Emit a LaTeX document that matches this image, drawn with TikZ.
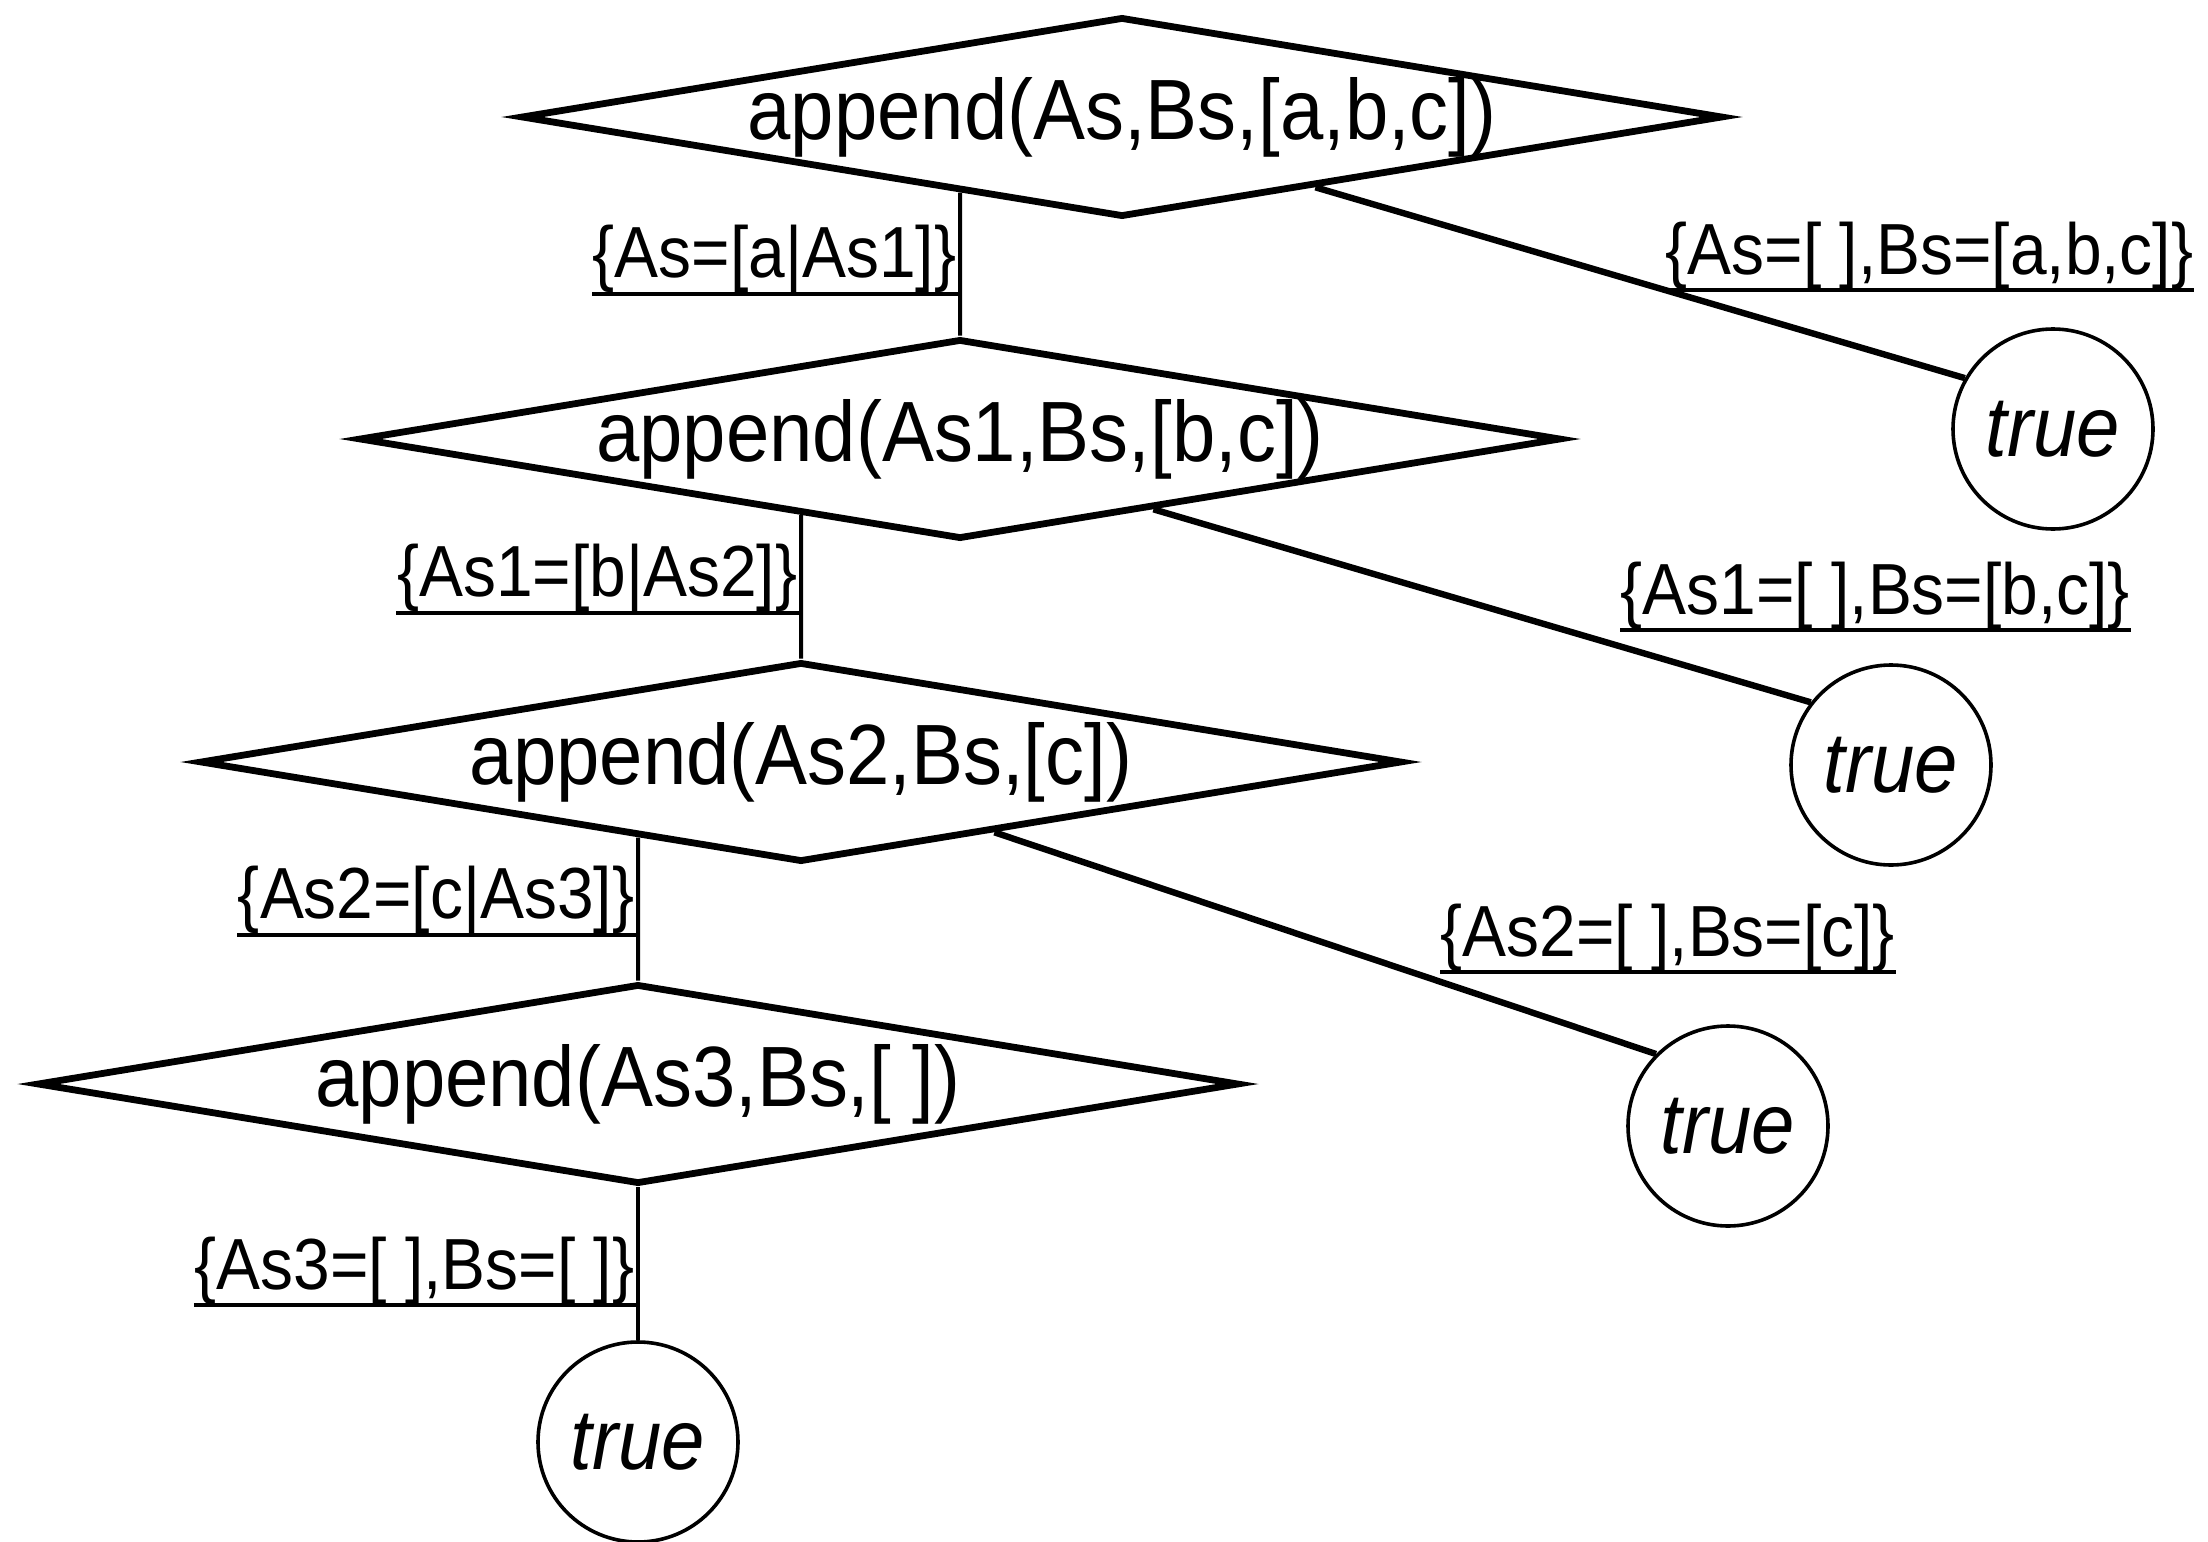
\documentclass[tikz,border=0pt]{standalone}
\usepackage{fontspec}
\newfontfamily\hv{Liberation Sans}[FakeStretch=0.91]
\usetikzlibrary{shapes.geometric,calc}
\begin{document}
\begin{tikzpicture}[x=0.25pt,y=-0.25pt,
  dia/.style={draw,diamond,line width=1.7pt,minimum width=300.5pt,minimum height=50pt,inner sep=0pt},
  goal/.style={inner sep=0pt,font=\hv\fontsize{21.4}{24}\selectfont},
  leaf/.style={draw,circle,line width=0.9pt,minimum size=50pt,inner sep=0pt,font=\hv\itshape\fontsize{21.4}{24}\selectfont},
  lab/.style={inner sep=0pt,font=\hv\fontsize{18.1}{20}\selectfont},
  uline/.style={line width=0.9pt},
  vline/.style={line width=1pt},
  bline/.style={line width=1.6pt}]
\useasboundingbox (0,0) rectangle (2208,1542);

% goals
\node[dia] (d1) at (1122,117) {};
\node[goal] (t1) at (d1.center) {append(As,Bs,[a,b,c])};
\node[dia] (d2) at (960,439) {};
\node[goal] (t2) at (d2.center) {append(As1,Bs,[b,c])};
\node[dia] (d3) at (801,762) {};
\node[goal] (t3) at (d3.center) {append(As2,Bs,[c])};
\node[dia] (d4) at (638,1084) {};
\node[goal] (t4) at (d4.center) {append(As3,Bs,[ ])};

% leaves
\node[leaf] (c1) at (2053,429) {true};
\node[leaf] (c2) at (1891,765) {true};
\node[leaf] (c3) at (1728,1126) {true};
\node[leaf] (c4) at (638,1442) {true};

% left (recursive) branches
\draw[vline] (intersection of d1.south--d1.west and d2.north--d2.center) -- (d2.north);
\draw[vline] (intersection of d2.south--d2.west and d3.north--d3.center) -- (d3.north);
\draw[vline] (intersection of d3.south--d3.west and d4.north--d4.center) -- (d4.north);
\draw[vline] (d4.south) -- (c4.north);

% right (base case) branches
\draw[bline] ($(d1.south)!0.32!(d1.east)$) -- (c1.150);
\draw[bline] ($(d2.south)!0.32!(d2.east)$) -- (c2.142);
\draw[bline] ($(d3.south)!0.32!(d3.east)$) -- (c3.135);

% labels on left branches
\node[lab,anchor=south east] (l1) at (957,294) {\{As=[a|As1]\}};
\draw[uline] (l1.south west) -- (l1.south west -| d2.north);
\node[lab,anchor=south east] (l2) at (798,613) {\{As1=[b|As2]\}};
\draw[uline] (l2.south west) -- (l2.south west -| d3.north);
\node[lab,anchor=south east] (l3) at (635,935) {\{As2=[c|As3]\}};
\draw[uline] (l3.south west) -- (l3.south west -| d4.north);
\node[lab,anchor=south east] (l4) at (635,1305) {\{As3=[ ],Bs=[ ]\}};
\draw[uline] (l4.south west) -- (l4.south west -| c4.north);

% labels on right branches
\node[lab,anchor=south west] (r1) at (1665,290) {\{As=[ ],Bs=[a,b,c]\}};
\draw[uline] (r1.south west) -- (r1.south east);
\node[lab,anchor=south west] (r2) at (1620,630) {\{As1=[ ],Bs=[b,c]\}};
\draw[uline] (r2.south west) -- (r2.south east);
\node[lab,anchor=south west] (r3) at (1440,972) {\{As2=[ ],Bs=[c]\}};
\draw[uline] (r3.south west) -- (r3.south east);
\end{tikzpicture}
\end{document}
